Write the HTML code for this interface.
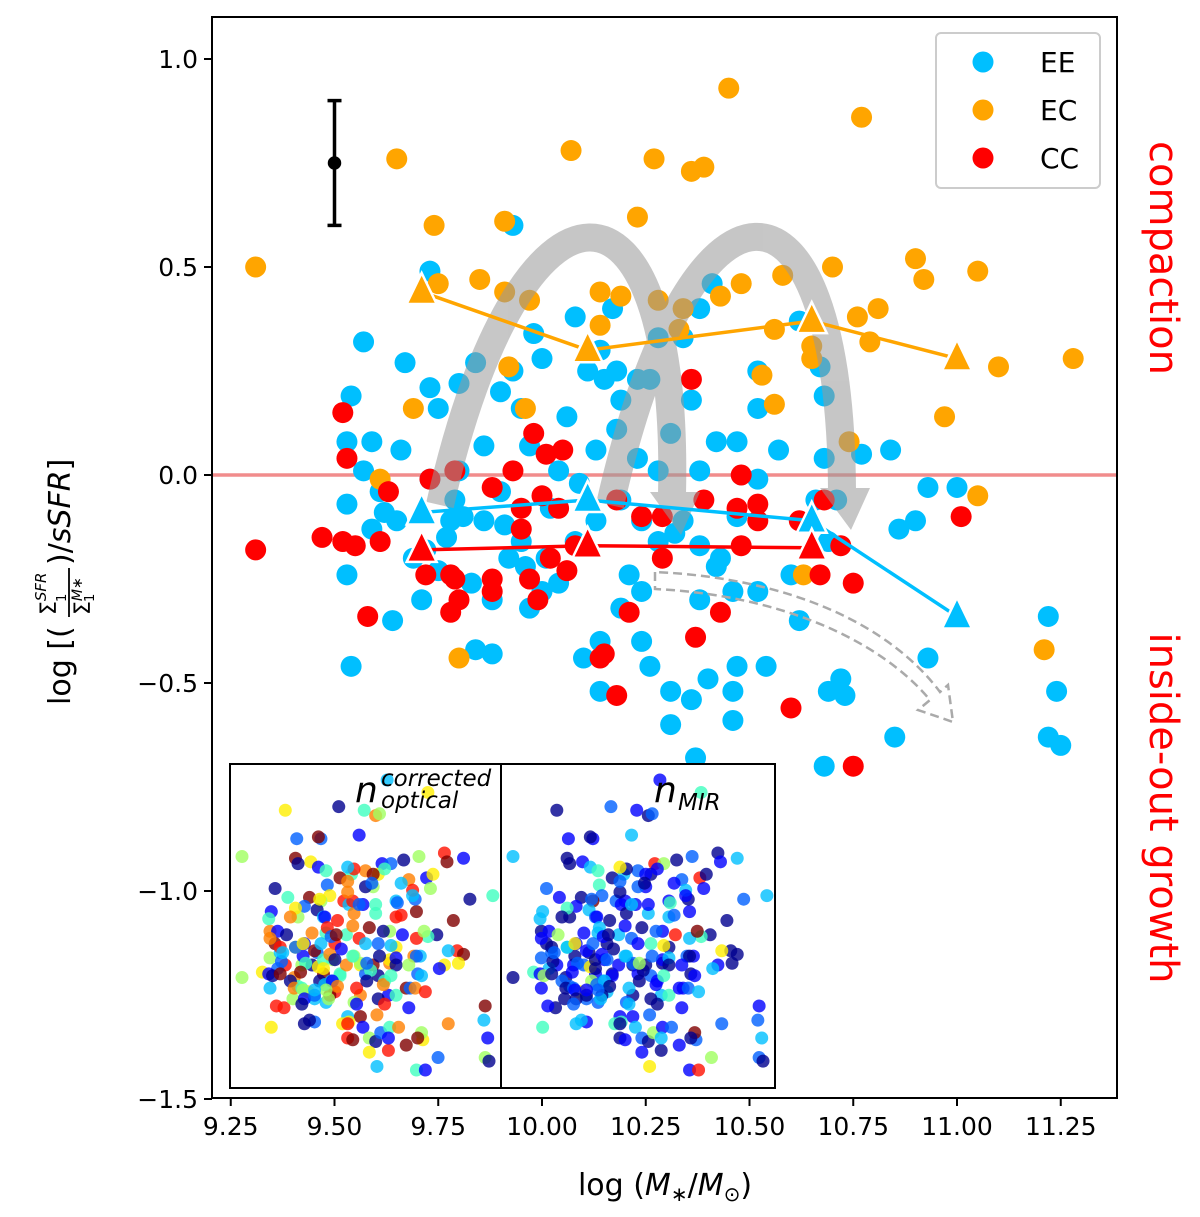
<!DOCTYPE html>
<html><head><meta charset="utf-8"><style>
body{margin:0;background:#fff;}
svg{display:block;font-family:"DejaVu Sans","Liberation Sans",sans-serif;}
</style></head><body>
<svg id="chart" width="1200" height="1217" viewBox="0 0 1200 1217" xmlns="http://www.w3.org/2000/svg">
<g id="main"></g>
<g id="inset"></g>
</svg>
<script>
// ---------- data ----------
const eeX=[9.93,9.73,9.57,9.67,9.54,9.53,9.53,9.53,9.54,9.64,11.22,11.24,11.22,11.25,10.85,10.68,10.93,11.00,10.93,10.90,10.86,10.84,10.77,10.68,10.67,10.62,10.52,10.52,10.41,10.38,10.34,10.28,10.17,10.08,9.98,10.11,10.15,10.19,10.26,10.00,9.93,9.84,9.80,9.90,9.95,10.06,9.97,9.86,9.75,9.73,9.59,9.66,9.57,9.61,9.65,9.59,9.72,9.75,9.83,9.78,9.79,9.86,9.90,9.95,10.01,10.04,10.08,10.13,10.19,10.24,10.28,10.34,10.38,10.43,10.46,10.24,10.19,10.14,10.10,10.14,10.24,10.26,10.31,10.36,10.40,10.47,10.54,10.46,10.37,10.31,10.46,10.38,10.52,10.60,10.69,10.66,10.71,10.68,10.57,10.52,10.47,10.42,10.36,10.31,10.38,10.23,10.28,10.47,10.62,10.73,10.72,10.69,9.88,9.84,9.97,10.04,10.13,10.18,9.71,9.73,9.80,9.92,10.00,9.88,10.18,10.23,10.14,9.81,9.91,10.02,10.09,9.69,9.62,9.77,9.96,10.21,10.32,10.42];
const eeY=[0.60,0.49,0.32,0.27,0.19,0.08,-0.07,-0.24,-0.46,-0.35,-0.34,-0.52,-0.63,-0.65,-0.63,-0.70,-0.44,-0.03,-0.03,-0.11,-0.13,0.06,0.05,0.19,0.26,0.37,0.25,0.16,0.46,0.40,0.33,0.33,0.40,0.38,0.34,0.25,0.23,0.18,0.23,0.28,0.25,0.27,0.22,0.20,0.16,0.14,0.07,0.07,0.16,0.21,0.08,0.06,0.01,-0.04,-0.11,-0.13,-0.18,-0.23,-0.26,-0.11,-0.06,-0.11,-0.04,-0.16,-0.20,-0.26,-0.16,-0.11,-0.06,-0.11,-0.16,-0.11,-0.17,-0.20,-0.28,-0.28,-0.32,-0.40,-0.44,-0.52,-0.40,-0.46,-0.52,-0.54,-0.49,-0.46,-0.46,-0.59,-0.68,-0.60,-0.52,-0.30,-0.28,-0.24,-0.16,-0.06,-0.06,0.04,0.06,-0.01,0.08,0.08,0.18,0.10,0.01,0.04,0.01,-0.10,-0.35,-0.53,-0.49,-0.52,-0.43,-0.42,-0.32,0.01,0.06,0.11,-0.30,-0.01,0.01,-0.20,-0.28,-0.30,0.25,0.23,0.30,-0.10,-0.12,-0.08,-0.02,-0.20,-0.09,-0.15,-0.22,-0.24,-0.14,-0.22];
const ecX=[9.31,9.65,9.74,9.91,10.07,10.27,10.23,10.36,10.39,10.45,10.77,10.90,10.92,11.05,10.70,10.58,10.48,10.43,10.28,10.19,10.14,9.85,9.91,9.75,9.97,10.34,10.33,10.14,10.56,10.65,10.76,10.81,10.79,11.10,11.28,10.97,10.53,10.56,10.65,9.69,9.96,9.92,10.74,11.05,10.63,9.80,11.21,9.61];
const ecY=[0.50,0.76,0.60,0.61,0.78,0.76,0.62,0.73,0.74,0.93,0.86,0.52,0.47,0.49,0.50,0.48,0.46,0.43,0.42,0.43,0.44,0.47,0.44,0.46,0.42,0.40,0.35,0.36,0.35,0.31,0.38,0.40,0.32,0.26,0.28,0.14,0.24,0.17,0.28,0.16,0.16,0.26,0.08,-0.05,-0.24,-0.44,-0.42,-0.01];
const ccX=[9.52,9.53,9.31,9.47,9.52,9.55,9.61,9.63,9.58,9.73,9.72,9.78,9.79,9.79,9.80,9.78,9.88,9.88,9.93,9.98,9.95,10.00,9.99,9.95,10.01,10.05,10.04,10.08,10.02,10.06,9.97,9.88,10.15,10.14,10.18,10.21,10.24,10.29,10.29,10.36,10.37,10.43,10.48,10.47,10.52,10.52,10.48,10.60,10.68,10.67,10.72,10.75,10.75,11.01,10.62,10.39,10.18];
const ccY=[0.15,0.04,-0.18,-0.15,-0.16,-0.17,-0.16,-0.04,-0.34,-0.01,-0.24,-0.24,0.01,-0.25,-0.30,-0.33,-0.28,-0.03,0.01,0.10,-0.08,-0.05,-0.30,-0.13,0.05,0.06,-0.08,-0.17,-0.20,-0.23,-0.25,-0.25,-0.43,-0.44,-0.53,-0.33,-0.10,-0.20,-0.10,0.23,-0.39,-0.33,0.00,-0.08,-0.07,-0.11,-0.17,-0.56,-0.06,-0.24,-0.17,-0.26,-0.70,-0.10,-0.11,-0.06,-0.06];
const binX=[9.71,10.11,10.65,11.00];
const ecMed=[0.44,0.30,0.37,0.28];
const eeMed=[-0.09,-0.06,-0.11,-0.34];
const ccMed=[-0.18,-0.17,-0.175];
const errX=9.5, errY=0.75, errLo=0.60, errHi=0.90;
const xTicks=[9.25,9.50,9.75,10.00,10.25,10.50,10.75,11.00,11.25];
const xTickLabels=["9.25","9.50","9.75","10.00","10.25","10.50","10.75","11.00","11.25"];
const yTicks=[1.0,0.5,0.0,-0.5,-1.0,-1.5];
const yTickLabels=["1.0","0.5","0.0","\u22120.5","\u22121.0","\u22121.5"];
// inset colour indices (0=dark blue ... 9=dark red, jet)
const optColors="2904175368915024783610492738165049283716592038475610938274651029384756";
const mirColors="1021302140132051206130410213801230421012901320310415021302610201230130";

// ---------- scales ----------
const L=212,R=1117,T=17,B=1098;
const sx=v=>542+(v-10)*415;
const sy=v=>475-v*416;
const NS="http://www.w3.org/2000/svg";
function mk(tag,attrs,parent){const e=document.createElementNS(NS,tag);for(const k in attrs)e.setAttribute(k,attrs[k]);parent.appendChild(e);return e;}
const svg=document.getElementById('chart');
const main=document.getElementById('main');
const inset=document.getElementById('inset');

let zl=mk('line',{x1:L,x2:R,y1:sy(0),y2:sy(0),stroke:'#f08080',"stroke-width":3.5,opacity:0.9},main);



function scatter(xs,ys,col,name){
  const g=mk('g',{},main);
  
  
  for(let i=0;i<xs.length;i++){
    const c=mk('circle',{cx:sx(xs[i]),cy:sy(ys[i]),r:10.5,fill:col},g);
    
    
  }
}
scatter(eeX,eeY,'#00bfff','ee');
scatter(ecX,ecY,'#ffa500','ec');
scatter(ccX,ccY,'#ff0000','cc');

const ag=mk('g',{opacity:0.55},main);


mk('path',{d:'M440,505 C 520,150 680,150 672,495',fill:'none',stroke:'#999',"stroke-width":28},ag);
mk('polygon',{points:'650,492 700,492 681,535',fill:'#999'},ag);
mk('path',{d:'M610,505 C 690,150 840,150 842,490',fill:'none',stroke:'#999',"stroke-width":28},ag);
mk('polygon',{points:'820,488 870,488 851,530',fill:'#999'},ag);
const da=mk('path',{d:'M655,572 L655,589 C 780,595 880,640 930,700 L918,710 L953,722 L948,685 L940,692 C 890,625 790,578 655,572 Z',fill:'none',stroke:'#aaa',"stroke-width":2.5,"stroke-dasharray":'9,5'},main);



function medLine(xs,ys,col,name){
  const g=mk('g',{},main);
  
  
  const pts=xs.slice(0,ys.length).map((x,i)=>sx(x)+','+sy(ys[i])).join(' ');
  mk('polyline',{points:pts,fill:'none',stroke:col,"stroke-width":3.5},g);
  for(let i=0;i<ys.length;i++){
    const x=sx(xs[i]),y=sy(ys[i]);
    const t=mk('polygon',{points:`${x},${y-19} ${x-15},${y+12} ${x+15},${y+12}`,fill:col,stroke:'#fff',"stroke-width":2.5},g);
    
    
  }
}
medLine(binX,ecMed,'#ffa500','ec');
medLine(binX,eeMed,'#00bfff','ee');
medLine(binX,ccMed,'#ff0000','cc');

const eg=mk('g',{stroke:'#000',"stroke-width":3.5},main);


mk('line',{x1:sx(errX),x2:sx(errX),y1:sy(errHi),y2:sy(errLo)},eg);
mk('line',{x1:sx(errX)-7,x2:sx(errX)+7,y1:sy(errHi),y2:sy(errHi)},eg);
mk('line',{x1:sx(errX)-7,x2:sx(errX)+7,y1:sy(errLo),y2:sy(errLo)},eg);
mk('circle',{cx:sx(errX),cy:sy(errY),r:5,fill:'#000'},eg);

// inset
const jet=["#00008f","#0000ff","#0060ff","#00bfff","#40ffbf","#a0ff60","#ffef00","#ff8000","#ff1000","#800000"];
const allX=eeX.concat(ecX,ccX), allY=eeY.concat(ecY,ccY);
mk('rect',{x:230,y:764,width:545,height:324,fill:'#fff'},inset);
function insetPanel(x0,x1,colors,name){
  const g=mk('g',{},inset);
  
  
  const ix=v=>x0+12+(v-9.31)/(11.25-9.31)*(x1-x0-24);
  const iy=v=>780+(0.93-v)/1.63*290;
  for(let i=0;i<allX.length;i++){
    const c=mk('circle',{cx:ix(allX[i]),cy:iy(allY[i]),r:6.5,fill:jet[+colors[i%colors.length]],opacity:0.8},g);
    
    
  }
  mk('rect',{x:x0,y:764,width:x1-x0,height:324,fill:'none',stroke:'#000',"stroke-width":2},g);
  return g;
}
const g1=insetPanel(230,501,optColors,'inset-n-optical');
const g2=insetPanel(501,775,mirColors,'inset-n-mir');
let t1=mk('text',{x:355,y:802,"font-size":36,"font-style":"italic"},g1);t1.textContent='n';
let t1a=mk('text',{x:381,y:786,"font-size":23,"font-style":"italic"},g1);t1a.textContent='corrected';
let t1b=mk('text',{x:381,y:808,"font-size":23,"font-style":"italic"},g1);t1b.textContent='optical';
let t2=mk('text',{x:654,y:802,"font-size":36,"font-style":"italic"},g2);t2.textContent='n';
let t2a=mk('text',{x:678,y:810,"font-size":23,"font-style":"italic"},g2);t2a.textContent='MIR';

const fr=mk('rect',{x:L,y:T,width:R-L,height:B-T,fill:'none',stroke:'#000',"stroke-width":2},svg);



const ax=mk('g',{"font-size":25,fill:'#000'},svg);


xTicks.forEach((v,i)=>{
  mk('line',{x1:sx(v),x2:sx(v),y1:B,y2:B+8,stroke:'#000',"stroke-width":2},ax);
  const t=mk('text',{x:sx(v),y:B+37,"text-anchor":"middle"},ax);
  t.textContent=xTickLabels[i];
  
  
});
yTicks.forEach((v,i)=>{
  mk('line',{x1:L-8,x2:L,y1:sy(v),y2:sy(v),stroke:'#000',"stroke-width":2},ax);
  const t=mk('text',{x:L-14,y:sy(v)+9,"text-anchor":"end"},ax);
  t.textContent=yTickLabels[i];
  
  
});
</script>
<div style="position:absolute;left:0;top:0;width:1200px;height:1217px;pointer-events:none">
<svg width="1200" height="1217" style="font-family:'DejaVu Sans','Liberation Sans',sans-serif">
<g>
<rect x="936" y="33" width="164" height="155" rx="5" fill="#fff" fill-opacity="0.8" stroke="#ccc" stroke-width="2"/>
<circle cx="983" cy="62" r="10.5" fill="#00bfff"/>
<text x="1040" y="72" font-size="28">EE</text>
<circle cx="983" cy="110" r="10.5" fill="#ffa500"/>
<text x="1040" y="120" font-size="28">EC</text>
<circle cx="983" cy="158" r="10.5" fill="#ff0000"/>
<text x="1040" y="168" font-size="28">CC</text>
</g>
<text x="665" y="1195" font-size="30" text-anchor="middle">log (<tspan font-style="italic">M</tspan><tspan font-size="20" dy="6">∗</tspan><tspan dy="-6">/</tspan><tspan font-style="italic">M</tspan><tspan font-size="20" dy="6">⊙</tspan><tspan dy="-6">)</tspan></text>
<g transform="translate(70,560) rotate(-90)">
<text x="-145" y="0" font-size="30">log [(</text>
<text x="-55" y="-14" font-size="22">Σ<tspan font-size="15" dy="-10" font-style="italic">SFR</tspan></text>
<text x="-42" y="-4" font-size="13">1</text>
<line x1="-57" x2="-8" y1="-1" y2="-1" stroke="#000" stroke-width="1.8"/>
<text x="-55" y="20" font-size="22">Σ<tspan font-size="14" dy="-8" font-style="italic">M∗</tspan></text>
<text x="-42" y="24" font-size="13">1</text>
<text x="-5" y="0" font-size="30">)/<tspan font-style="italic">sSFR</tspan>]</text>
</g>
<text transform="translate(1150,258) rotate(90)" font-size="40" fill="#ff0000" text-anchor="middle">compaction</text>
<text transform="translate(1150,808) rotate(90)" font-size="40" fill="#ff0000" text-anchor="middle">inside-out growth</text>
</svg></div>
</body></html>
